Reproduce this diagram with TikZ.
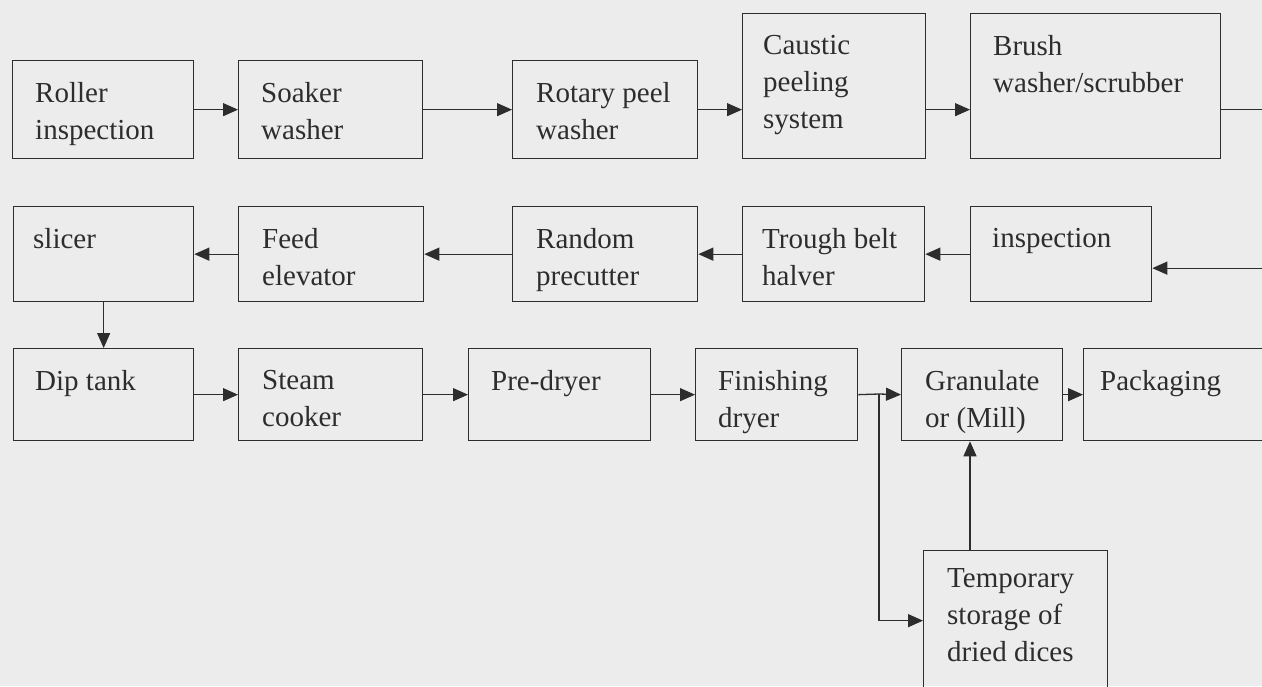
\documentclass[tikz,border=0pt]{standalone}
\usepackage{fontspec}
\setmainfont{Liberation Serif}
\usetikzlibrary{arrows.meta,calc}
\definecolor{paper}{RGB}{236,236,236}
\definecolor{ink}{RGB}{45,45,45}
\begin{document}
\begin{tikzpicture}[x=1pt,y=-1pt,
  box/.style={draw=ink,line width=1.3pt,rectangle,inner sep=0pt,anchor=north west},
  lbl/.style={anchor=north west,inner sep=0pt,align=left,text=ink,font=\fontsize{29}{37}\selectfont},
  arr/.style={draw=ink,line width=1.3pt,-{Triangle[length=15pt,width=13pt]}},
  ln/.style={draw=ink,line width=1.3pt}]
\useasboundingbox (0,0) rectangle (1262,686);
\clip (0,0) rectangle (1262,686);
\fill[paper] (0,0) rectangle (1262,686);
% row 1
\node[box,minimum width=181pt,minimum height=98pt] (roller) at (12,60) {};
\node[box,minimum width=184pt,minimum height=98pt] (soaker) at (238,60) {};
\node[box,minimum width=185pt,minimum height=98pt] (rotary) at (512,60) {};
\node[box,minimum width=183pt,minimum height=145pt] (caustic) at (742,13) {};
\node[box,minimum width=250pt,minimum height=145pt] (brush) at (970,13) {};
% row 2
\node[box,minimum width=180pt,minimum height=95pt] (slicer) at (13,206) {};
\node[box,minimum width=185pt,minimum height=95pt] (feed) at (238,206) {};
\node[box,minimum width=185pt,minimum height=95pt] (random) at (512,206) {};
\node[box,minimum width=182pt,minimum height=95pt] (trough) at (742,206) {};
\node[box,minimum width=181pt,minimum height=95pt] (inspect) at (970,206) {};
% row 3
\node[box,minimum width=180pt,minimum height=92pt] (dip) at (13,348) {};
\node[box,minimum width=184pt,minimum height=92pt] (steam) at (238,348) {};
\node[box,minimum width=182pt,minimum height=92pt] (pre) at (468,348) {};
\node[box,minimum width=162pt,minimum height=92pt] (finish) at (695,348) {};
\node[box,minimum width=161pt,minimum height=92pt] (gran) at (901,348) {};
\node[box,minimum width=200pt,minimum height=92pt] (pack) at (1083,348) {};
\node[box,minimum width=184pt,minimum height=140pt] (temp) at (923,550) {};
% labels
\node[lbl] (t-roller) at ($(roller.north west)+(23,22)$) {Roller\\inspection};
\node[lbl] (t-soaker) at ($(soaker.north west)+(23,22)$) {Soaker\\washer};
\node[lbl] (t-rotary) at ($(rotary.north west)+(24,22)$) {Rotary peel\\washer};
\node[lbl] (t-caustic) at ($(caustic.north west)+(21,22)$) {Caustic\\peeling\\system};
\node[lbl] (t-brush) at ($(brush.north west)+(23,22)$) {Brush\\washer/scrubber};
\node[lbl] (t-slicer) at ($(slicer.north west)+(20,22)$) {slicer};
\node[lbl] (t-feed) at ($(feed.north west)+(24,22)$) {Feed\\elevator};
\node[lbl] (t-random) at ($(random.north west)+(24,22)$) {Random\\precutter};
\node[lbl] (t-trough) at ($(trough.north west)+(20,22)$) {Trough belt\\halver};
\node[lbl] (t-inspect) at ($(inspect.north west)+(22,22)$) {inspection};
\node[lbl] (t-dip) at ($(dip.north west)+(22,22)$) {Dip tank};
\node[lbl] (t-steam) at ($(steam.north west)+(24,22)$) {Steam\\cooker};
\node[lbl] (t-pre) at ($(pre.north west)+(23,22)$) {Pre-dryer};
\node[lbl] (t-finish) at ($(finish.north west)+(23,22)$) {Finishing\\dryer};
\node[lbl] (t-gran) at ($(gran.north west)+(24,22)$) {Granulate\\or (Mill)};
\node[lbl] (t-pack) at ($(pack.north west)+(17,22)$) {Packaging};
\node[lbl] (t-temp) at ($(temp.north west)+(24,18)$) {Temporary\\storage of\\dried dices};
% connectors row 1
\draw[arr] (roller.east) -- (soaker.west);
\draw[arr] (soaker.east) -- (rotary.west);
\draw[arr] (rotary.east) -- (rotary.east -| caustic.west);
\draw[arr] (caustic.east |- rotary.east) -- (rotary.east -| brush.west);
\draw[arr] (brush.east |- rotary.east) -- ++(70,0) |- ($(inspect.east)+(0,14)$);
% row 2
\draw[arr] (inspect.west) -- (trough.east);
\draw[arr] (trough.west) -- (random.east);
\draw[arr] (random.west) -- (feed.east);
\draw[arr] (feed.west) -- (slicer.east);
\draw[arr] (slicer.south) -- (dip.north);
% row 3
\draw[arr] (dip.east) -- (steam.west);
\draw[arr] (steam.east) -- (pre.west);
\draw[arr] (pre.east) -- (finish.west);
\coordinate (j) at (879,394);
\draw[ln] (finish.east) -- (j);
\draw[arr] (j) -- (gran.west);
\draw[arr] (j) |- (temp.west);
\coordinate (tx) at (970,0);
\draw[arr] (tx |- temp.north) -- (tx |- gran.south);
\draw[arr] (gran.east) -- (pack.west);
\end{tikzpicture}
\end{document}
